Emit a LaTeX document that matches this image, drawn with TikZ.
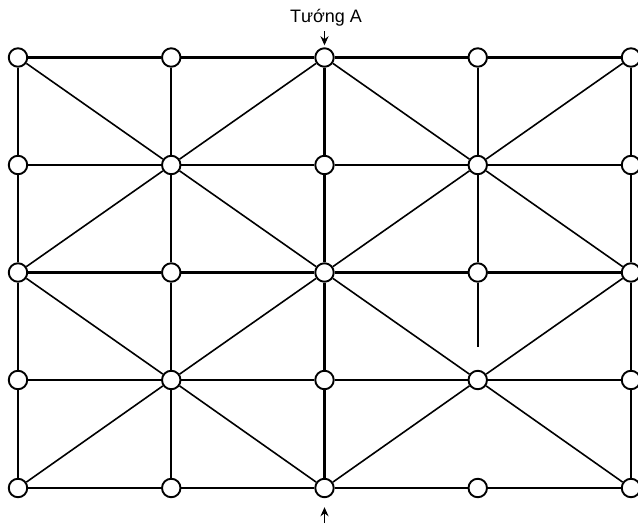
\documentclass[tikz,border=0pt]{standalone}
\usepackage{fontspec}
\setmainfont{Liberation Sans}
\usetikzlibrary{arrows.meta}
\begin{document}
\begin{tikzpicture}[x=1pt,y=-1pt,
  pt/.style={circle,draw,fill=white,line width=1.9pt,minimum size=18.5pt,inner sep=0pt},
  gridline/.style={line width=2.2pt},
  diag/.style={line width=1.6pt},
  arr/.style={-{Stealth[length=9pt,width=8pt]},line width=1.7pt}]
\useasboundingbox (0,0) rectangle (638,523);
\foreach \c/\x in {0/18,1/171.25,2/324.5,3/477.75,4/631}
  \foreach \r/\y in {0/57.5,1/165,2/272.5,3/380,4/488}
    \node[pt] (n\c\r) at (\x,\y) {};
% horizontal lines
\foreach \r in {0,...,4}
  \draw[gridline] (n0\r)--(n1\r) (n1\r)--(n2\r) (n2\r)--(n3\r) (n3\r)--(n4\r);
% vertical lines
\foreach \c in {0,1,2,4}
  \draw[gridline] (n\c0)--(n\c1) (n\c1)--(n\c2) (n\c2)--(n\c3) (n\c3)--(n\c4);
\coordinate (c3p) at (477.75,347);
\draw[gridline] (n30)--(n31) (n31)--(n32) (n32)--(c3p);
% diagonals
\draw[diag] (n00)--(n11) (n11)--(n22) (n22)--(n33) (n33)--(n44);
\draw[diag] (n40)--(n31) (n31)--(n22) (n22)--(n13) (n13)--(n04);
\draw[diag] (n20)--(n11) (n11)--(n02) (n20)--(n31) (n31)--(n42);
\draw[diag] (n02)--(n13) (n13)--(n24) (n42)--(n33) (n33)--(n24);
% labels and arrows
\node[font=\fontsize{18}{21}\selectfont,inner sep=0pt] (lab) at (326,18) {Tướng A};
\coordinate (ta) at (324.5,31);
\draw[arr,shorten >=2pt] (ta) -- (n20);
\coordinate (tb) at (324.5,523);
\draw[arr,shorten >=9pt] (tb) -- (n24);
\end{tikzpicture}
\end{document}
